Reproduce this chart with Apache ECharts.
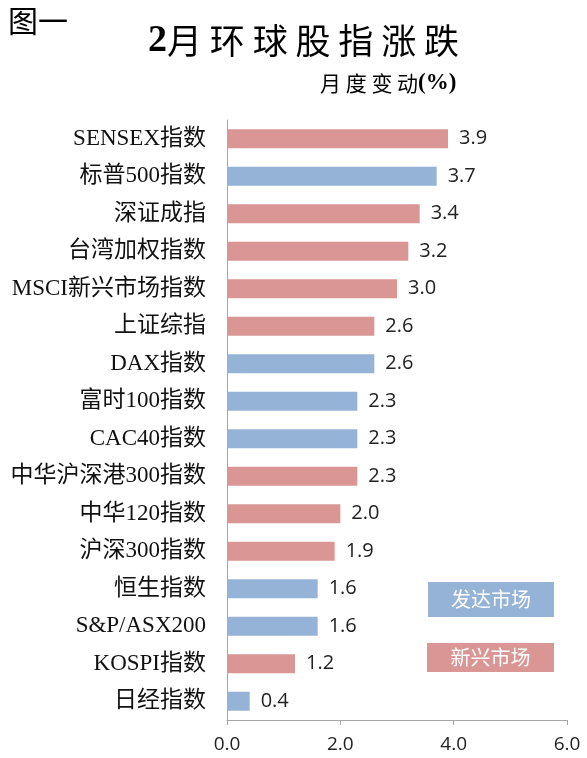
<!DOCTYPE html>
<html>
<head>
<meta charset="utf-8">
<script src="https://cdn.jsdelivr.net/npm/echarts@6/dist/echarts.min.js"></script>
<style>
  html, body { margin: 0; padding: 0; background: #fff; }
  #chart { width: 587px; height: 758px; }
</style>
</head>
<body>
<div id="chart"></div>
<script>
// 指数名称（从上到下）
const categories = ['SENSEX指数', '标普500指数', '深证成指', '台湾加权指数', 'MSCI新兴市场指数', '上证综指',
  'DAX指数', '富时100指数', 'CAC40指数', '中华沪深港300指数', '中华120指数', '沪深300指数',
  '恒生指数', 'S&P/ASX200', 'KOSPI指数', '日经指数'];
// 月度变动(%)
const values = [3.9, 3.7, 3.4, 3.2, 3.0, 2.6, 2.6, 2.3, 2.3, 2.3, 2.0, 1.9, 1.6, 1.6, 1.2, 0.4];
// 市场类型: 'em' 新兴市场, 'dm' 发达市场
const marketType = ['em', 'dm', 'em', 'em', 'em', 'em', 'dm', 'dm', 'dm', 'em', 'em', 'em', 'dm', 'dm', 'em', 'dm'];
const xTicks = [0, 2, 4, 6];

const RED = '#D99694';
const BLUE = '#95B3D7';
const SERIF = 'Liberation Serif, Noto Sans CJK SC, serif';

const myChart = echarts.init(document.getElementById('chart'));

const barData = values.map((v, i) => ({
  value: v,
  itemStyle: { color: marketType[i] === 'em' ? RED : BLUE }
}));

const option = {
  animation: false,
  backgroundColor: '#fff',
  grid: { left: 227, right: 20, top: 120, bottom: 38 },
  xAxis: {
    type: 'value',
    min: xTicks[0],
    max: xTicks[xTicks.length - 1],
    interval: 2,
    axisLine: { show: true, lineStyle: { color: '#A6A6A6' } },
    axisTick: { show: true, length: 5, lineStyle: { color: '#A6A6A6' } },
    splitLine: { show: false },
    axisLabel: {
      color: '#222',
      fontSize: 19,
      fontFamily: 'Open Sans, sans-serif',
      margin: 15,
      formatter: v => v.toFixed(1)
    }
  },
  yAxis: {
    type: 'category',
    data: categories,
    inverse: true,
    axisLine: { show: true, lineStyle: { color: '#A6A6A6' } },
    axisTick: { show: false },
    axisLabel: {
      color: '#111',
      fontSize: 23,
      fontFamily: SERIF,
      margin: 21
    }
  },
  series: [{
    type: 'bar',
    data: barData,
    barWidth: 19,
    label: {
      show: true,
      position: 'right',
      distance: 11,
      color: '#222',
      fontSize: 20,
      fontFamily: 'Open Sans, sans-serif',
      formatter: p => p.value.toFixed(1)
    }
  }],
  graphic: [
    { type: 'text', left: 8, top: 6, style: { text: '图一', fontSize: 30, fill: '#000', fontFamily: 'Noto Sans CJK SC' } },
    {
      type: 'text', left: 148, top: 22,
      style: {
        text: '{a|2}{b|月 环 球 股 指 涨 跌}',
        rich: {
          a: { fontSize: 38, fontWeight: 'bold', fontFamily: SERIF, fill: '#000' },
          b: { fontSize: 35, fontFamily: 'Noto Sans CJK SC', fill: '#000' }
        }
      }
    },
    {
      type: 'text', left: 320, top: 72,
      style: {
        text: '{b|月 度 变 动}{a|(%)}',
        rich: {
          a: { fontSize: 23, fontWeight: 'bold', fontFamily: SERIF, fill: '#000' },
          b: { fontSize: 21, fontFamily: 'Noto Sans CJK SC', fill: '#000' }
        }
      }
    },
    { type: 'rect', shape: { x: 428, y: 582, width: 126, height: 35 }, style: { fill: BLUE } },
    { type: 'text', x: 491, y: 599.5, style: { text: '发达市场', fontSize: 20, fill: '#fff', align: 'center', verticalAlign: 'middle', fontFamily: 'Noto Sans CJK SC' } },
    { type: 'rect', shape: { x: 427, y: 643, width: 127, height: 29 }, style: { fill: RED } },
    { type: 'text', x: 490.5, y: 657.5, style: { text: '新兴市场', fontSize: 20, fill: '#fff', align: 'center', verticalAlign: 'middle', fontFamily: 'Noto Sans CJK SC' } }
  ]
};

myChart.setOption(option);
window.addEventListener('resize', function () {
  myChart.resize();
});
</script>
</body>
</html>
